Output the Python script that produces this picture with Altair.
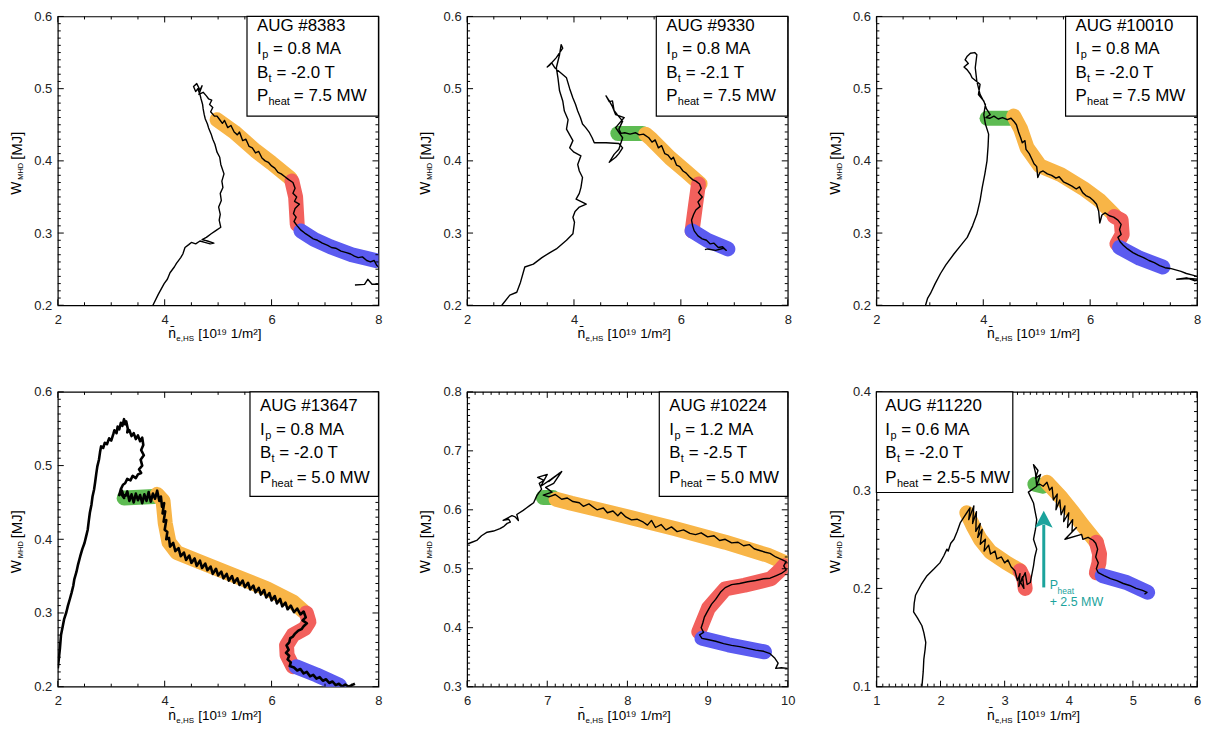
import altair as alt
import pandas as pd

FONT = "Liberation Sans"
BAND_COLORS = {"orange": "#F8B547", "red": "#F2605C", "blue": "#5B5BF0", "green": "#5DBB52"}
TEAL = "#1BA39C"

# ---------------- Panel 1 : AUG #8383 ----------------
P1_INFO = ["AUG #8383", "0.8 MA", "-2.0 T", "7.5 MW"]
P1_LINE = [(3.78,0.200),(3.88,0.215),(3.99,0.230),(4.05,0.236),(4.10,0.245),(4.18,0.253),(4.22,0.258),
           (4.30,0.266),(4.34,0.271),(4.38,0.280),(4.45,0.284),(4.50,0.287),(4.58,0.285),(4.66,0.289),
           (4.75,0.287),(4.85,0.285),(4.92,0.286),(4.80,0.289),(4.70,0.291),(4.78,0.294),(4.87,0.299),
           (4.95,0.303),(5.05,0.308),(5.02,0.318),(5.04,0.326),(5.01,0.336),(5.06,0.345),(5.04,0.355),
           (5.09,0.363),(5.07,0.372),(5.11,0.382),(5.05,0.395),(5.03,0.405),(4.98,0.412),(4.94,0.423),
           (4.90,0.430),(4.87,0.437),(4.82,0.446),(4.80,0.451),(4.76,0.458),(4.74,0.464),(4.72,0.472),
           (4.71,0.478),(4.68,0.486),(4.66,0.492),(4.62,0.500),(4.58,0.496),(4.54,0.503),(4.60,0.507),
           (4.66,0.498),(4.70,0.504),(4.64,0.492),(4.72,0.495),(4.78,0.490),(4.82,0.486),(4.88,0.484),
           (4.84,0.478),(4.90,0.474),(4.86,0.468),(4.93,0.462),(4.98,0.462),(5.02,0.458),
           (5.08,0.452),(5.12,0.456),(5.18,0.446),(5.24,0.449),(5.30,0.440),(5.36,0.436),(5.40,0.440),
           (5.46,0.428),(5.52,0.430),(5.58,0.420),(5.64,0.418),(5.70,0.411),(5.76,0.413),(5.82,0.404),
           (5.88,0.400),(5.94,0.398),(6.00,0.393),(6.06,0.390),(6.12,0.384),(6.18,0.382),(6.25,0.378),
           (6.32,0.374),(6.40,0.370),(6.44,0.362),(6.40,0.355),(6.47,0.350),(6.43,0.344),(6.52,0.340),
           (6.44,0.334),(6.41,0.327),(6.46,0.322),(6.42,0.316),(6.48,0.310),(6.55,0.304),(6.62,0.300),
           (6.70,0.296),(6.78,0.292),(6.86,0.290),(6.95,0.286),(7.05,0.283),(7.12,0.280),(7.20,0.279),
           (7.30,0.275),(7.40,0.273),(7.48,0.271),(7.55,0.268),(7.62,0.266),(7.70,0.267),(7.78,0.262),
           (7.85,0.260),(7.92,0.262),(7.97,0.255),(8.02,0.252),(8.15,0.240),(8.05,0.229),(7.88,0.229),
           (7.80,0.236),(7.74,0.229),(7.56,0.228)]
P1_ORANGE = [(4.98,0.457),(5.30,0.440),(5.70,0.414),(6.00,0.397),(6.35,0.376)]
P1_RED = [(6.38,0.372),(6.45,0.350),(6.48,0.312)]
P1_BLUE = [(6.55,0.303),(6.80,0.291),(7.10,0.281),(7.50,0.270),(7.95,0.262)]

# ---------------- Panel 2 : AUG #9330 ----------------
P2_INFO = ["AUG #9330", "0.8 MA", "-2.1 T", "7.5 MW"]
P2_LINE = [(2.65,0.200),(2.80,0.214),(2.93,0.218),(3.00,0.232),(3.08,0.253),(3.24,0.257),(3.40,0.266),
           (3.55,0.273),(3.67,0.278),(3.86,0.290),(3.98,0.299),(4.01,0.315),(3.98,0.322),(4.02,0.330),
           (4.10,0.336),(4.23,0.340),(4.04,0.347),(4.10,0.355),(4.13,0.363),(4.16,0.377),(4.10,0.386),
           (4.07,0.395),(4.13,0.407),(4.00,0.412),(3.92,0.418),(3.98,0.428),(3.92,0.436),(3.86,0.444),
           (3.89,0.457),(3.82,0.469),(3.79,0.483),(3.73,0.497),(3.70,0.515),(3.67,0.529),(3.73,0.547),
           (3.76,0.561),(3.79,0.556),(3.67,0.543),(3.55,0.533),(3.50,0.530),(3.58,0.536),(3.64,0.529),
           (3.75,0.522),(3.86,0.515),(3.92,0.500),(3.98,0.487),(4.03,0.478),(4.07,0.469),(4.12,0.460),
           (4.16,0.451),(4.22,0.446),(4.29,0.439),(4.34,0.432),(4.38,0.425),(4.60,0.425),(4.84,0.424),
           (4.91,0.418),(4.84,0.410),(4.78,0.405),(4.66,0.398),(4.75,0.409),(4.84,0.416),(4.91,0.432),
           (4.78,0.446),(4.94,0.460),(4.78,0.464),(4.72,0.475),(4.66,0.483),(4.60,0.490),(4.66,0.482),
           (4.72,0.483),(4.75,0.470),(4.81,0.464),(4.91,0.455),(4.84,0.444),(4.88,0.438),(4.95,0.439),
           (5.05,0.437),(5.15,0.439),(5.22,0.436),(5.30,0.437),(5.40,0.432),(5.46,0.426),(5.52,0.429),
           (5.58,0.418),(5.64,0.421),(5.70,0.410),(5.76,0.408),(5.82,0.402),(5.86,0.405),(5.92,0.394),
           (5.98,0.392),(6.04,0.386),(6.10,0.383),(6.16,0.378),(6.22,0.374),(6.28,0.372),(6.35,0.368),
           (6.38,0.362),(6.33,0.356),(6.40,0.350),(6.32,0.343),(6.36,0.337),(6.28,0.332),(6.24,0.326),
           (6.20,0.318),(6.22,0.310),(6.25,0.303),(6.32,0.296),(6.40,0.292),(6.48,0.290),(6.55,0.285),
           (6.62,0.286),(6.70,0.280),(6.78,0.281),(6.85,0.276),(6.80,0.279),(6.65,0.276),(6.50,0.278),
           (6.45,0.277)]
P2_GREEN = [(4.82,0.438),(5.28,0.438)]
P2_ORANGE = [(5.34,0.437),(5.45,0.430),(5.80,0.404),(6.10,0.385),(6.36,0.368)]
P2_RED = [(6.33,0.368),(6.27,0.336),(6.21,0.303)]
P2_BLUE = [(6.21,0.303),(6.50,0.290),(6.88,0.278)]

# ---------------- Panel 3 : AUG #10010 ----------------
P3_INFO = ["AUG #10010", "0.8 MA", "-2.0 T", "7.5 MW"]
P3_LINE = [(2.92,0.200),(2.96,0.210),(3.01,0.216),(3.10,0.230),(3.20,0.244),(3.30,0.256),(3.45,0.271),
           (3.58,0.283),(3.70,0.294),(3.80,0.310),(3.88,0.326),(3.94,0.345),(3.98,0.363),(4.03,0.382),
           (4.07,0.400),(4.09,0.420),(4.10,0.437),(4.04,0.451),(4.01,0.464),(4.04,0.478),(3.94,0.492),
           (3.88,0.510),(3.85,0.529),(3.88,0.547),(3.84,0.550),(3.76,0.549),(3.70,0.545),(3.66,0.540),
           (3.72,0.535),(3.64,0.530),(3.70,0.526),(3.76,0.520),(3.79,0.515),(3.94,0.506),(3.91,0.492),
           (4.01,0.483),(4.06,0.472),(4.13,0.464),(4.05,0.460),(4.12,0.459),(4.20,0.462),(4.28,0.458),
           (4.36,0.460),(4.45,0.457),(4.52,0.459),(4.57,0.455),(4.62,0.450),(4.66,0.440),(4.70,0.432),
           (4.73,0.425),(4.78,0.428),(4.80,0.416),(4.86,0.410),(4.90,0.404),(4.95,0.396),(5.00,0.392),
           (5.02,0.377),(5.06,0.384),(5.12,0.386),(5.20,0.382),(5.28,0.380),(5.36,0.376),(5.42,0.378),
           (5.50,0.371),(5.58,0.368),(5.66,0.365),(5.74,0.361),(5.80,0.364),(5.86,0.356),(5.92,0.352),
           (6.00,0.349),(6.06,0.345),(6.12,0.340),(6.16,0.330),(6.18,0.314),(6.22,0.325),(6.28,0.328),
           (6.36,0.324),(6.44,0.322),(6.52,0.318),(6.58,0.312),(6.55,0.305),(6.58,0.298),(6.52,0.294),
           (6.56,0.288),(6.62,0.283),(6.70,0.278),(6.80,0.273),(6.90,0.269),(7.00,0.266),(7.10,0.262),
           (7.20,0.259),(7.30,0.255),(7.40,0.252),(7.50,0.251),(7.60,0.249),(7.70,0.247),(7.80,0.244),
           (7.90,0.242),(8.00,0.240),(8.10,0.238),(8.02,0.236),(7.85,0.237),(7.62,0.236),(7.80,0.238),
           (7.95,0.234),(8.10,0.236)]
P3_GREEN = [(4.07,0.459),(4.53,0.459)]
P3_ORANGE = [(4.57,0.462),(4.70,0.444),(4.82,0.418),(5.06,0.393),(5.45,0.381),(5.87,0.362),
             (6.18,0.345),(6.45,0.325)]
P3_RED = [(6.45,0.323),(6.58,0.318),(6.60,0.298),(6.50,0.285)]
P3_BLUE = [(6.55,0.280),(6.93,0.265),(7.36,0.253)]

# ---------------- Panel 4 : AUG #13647 ----------------
P4_INFO = ["AUG #13647", "0.8 MA", "-2.0 T", "5.0 MW"]
P4_LINE = [(2.00,0.225),(2.02,0.238),(2.04,0.252),(2.06,0.270),(2.09,0.281),(2.12,0.292),(2.16,0.301),
           (2.19,0.310),(2.23,0.320),(2.26,0.328),(2.29,0.337),(2.31,0.346),(2.35,0.356),(2.38,0.366),
           (2.42,0.377),(2.46,0.387),(2.50,0.395),(2.53,0.404),(2.56,0.413),(2.58,0.425),(2.60,0.436),
           (2.63,0.447),(2.65,0.458),(2.68,0.468),(2.70,0.478),(2.72,0.489),(2.74,0.499),(2.77,0.508),
           (2.79,0.518),(2.81,0.526),(2.85,0.524),(2.88,0.531),(2.92,0.529),(2.96,0.537),(3.00,0.534),
           (3.04,0.543),(3.06,0.548),(3.10,0.544),(3.12,0.553),(3.15,0.549),(3.18,0.558),(3.21,0.554),
           (3.24,0.563),(3.26,0.556),(3.28,0.560),(3.31,0.550),(3.30,0.545),(3.34,0.548),(3.38,0.540),
           (3.42,0.544),(3.46,0.536),(3.50,0.541),(3.54,0.533),(3.58,0.538),(3.60,0.528),(3.56,0.521),
           (3.61,0.514),(3.55,0.508),(3.58,0.500),(3.52,0.495),(3.56,0.490),(3.50,0.488),(3.46,0.483),
           (3.40,0.486),(3.36,0.480),(3.30,0.482),(3.26,0.476),(3.22,0.474),(3.18,0.468),(3.15,0.460),
           (3.20,0.466),(3.24,0.456),(3.18,0.462),(3.27,0.459),(3.30,0.465),(3.34,0.452),(3.38,0.461),
           (3.42,0.450),(3.46,0.462),(3.50,0.453),(3.54,0.460),(3.58,0.449),(3.62,0.461),(3.66,0.452),
           (3.70,0.464),(3.74,0.451),(3.78,0.462),(3.82,0.455),(3.86,0.466),(3.90,0.452),(3.93,0.458),
           (3.95,0.444),(3.99,0.449),(3.96,0.435),(4.01,0.438),(3.98,0.424),(4.03,0.426),(4.00,0.413),
           (4.05,0.410),(4.03,0.400),(4.08,0.402),(4.10,0.390),(4.16,0.395),(4.20,0.384),(4.26,0.388),
           (4.30,0.377),(4.36,0.382),(4.40,0.372),(4.46,0.378),(4.50,0.368),(4.56,0.374),(4.60,0.364),
           (4.66,0.371),(4.70,0.361),(4.76,0.367),(4.80,0.358),(4.86,0.363),(4.90,0.353),(4.96,0.360),
           (5.00,0.351),(5.06,0.356),(5.10,0.347),(5.16,0.353),(5.20,0.344),(5.26,0.350),(5.30,0.341),
           (5.36,0.347),(5.40,0.338),(5.46,0.344),(5.50,0.335),(5.56,0.341),(5.60,0.332),(5.66,0.337),
           (5.70,0.328),(5.76,0.334),(5.80,0.325),(5.86,0.331),(5.90,0.321),(5.96,0.327),(6.00,0.317),
           (6.06,0.323),(6.10,0.313),(6.16,0.319),(6.20,0.309),(6.26,0.314),(6.30,0.305),(6.36,0.310),
           (6.42,0.301),(6.48,0.306),(6.54,0.298),(6.60,0.302),(6.64,0.294),(6.58,0.290),(6.66,0.286),
           (6.60,0.282),(6.56,0.278),(6.50,0.276),(6.44,0.272),(6.40,0.268),(6.35,0.266),(6.33,0.260),
           (6.28,0.256),(6.32,0.250),(6.27,0.246),(6.33,0.242),(6.30,0.237),(6.36,0.233),(6.34,0.228),
           (6.42,0.226),(6.48,0.222),(6.54,0.224),(6.60,0.218),(6.66,0.220),(6.72,0.214),(6.78,0.216),
           (6.84,0.211),(6.90,0.213),(6.96,0.208),(7.02,0.210),(7.08,0.205),(7.14,0.207),(7.20,0.202),
           (7.26,0.204),(7.32,0.200),(7.38,0.203),(7.44,0.200),(7.50,0.202),(7.56,0.204)]
P4_GREEN = [(3.24,0.456),(3.80,0.458)]
P4_ORANGE = [(3.86,0.461),(3.97,0.452),(4.01,0.422),(4.08,0.396),(4.23,0.382),(4.67,0.369),
             (5.29,0.351),(5.91,0.333),(6.40,0.315),(6.59,0.303)]
P4_RED = [(6.65,0.300),(6.70,0.288),(6.62,0.279),(6.40,0.270),(6.28,0.256),(6.29,0.243),(6.40,0.227)]
P4_BLUE = [(6.46,0.227),(6.84,0.216),(7.27,0.202)]

# ---------------- Panel 5 : AUG #10224 ----------------
P5_INFO = ["AUG #10224", "1.2 MA", "-2.5 T", "5.0 MW"]
P5_LINE = [(6.00,0.542),(6.06,0.545),(6.12,0.548),(6.18,0.556),(6.25,0.562),(6.33,0.564),(6.41,0.568),
           (6.46,0.572),(6.50,0.577),(6.54,0.579),(6.52,0.584),(6.45,0.582),(6.56,0.590),(6.60,0.588),
           (6.64,0.582),(6.62,0.592),(6.70,0.599),(6.74,0.603),(6.78,0.607),(6.83,0.612),(6.87,0.624),
           (6.90,0.630),(6.93,0.635),(6.90,0.645),(6.96,0.650),(6.88,0.655),(7.00,0.660),(6.92,0.640),
           (7.05,0.652),(7.15,0.662),(7.02,0.648),(7.18,0.665),(7.08,0.645),(6.98,0.638),(7.06,0.630),
           (6.95,0.625),(7.02,0.622),(7.10,0.626),(7.18,0.618),(7.25,0.620),(7.32,0.614),(7.40,0.612),
           (7.45,0.606),(7.52,0.610),(7.58,0.604),(7.62,0.600),(7.70,0.603),(7.75,0.595),(7.82,0.598),
           (7.88,0.590),(7.92,0.596),(7.98,0.588),(8.05,0.583),(8.12,0.584),(8.20,0.579),(8.25,0.574),
           (8.30,0.582),(8.35,0.570),(8.42,0.575),(8.48,0.566),(8.55,0.571),(8.62,0.563),(8.70,0.566),
           (8.78,0.560),(8.85,0.558),(8.92,0.561),(9.00,0.554),(9.08,0.556),(9.15,0.548),(9.22,0.550),
           (9.30,0.544),(9.38,0.545),(9.45,0.539),(9.52,0.541),(9.58,0.534),(9.65,0.531),(9.72,0.528),
           (9.78,0.526),(9.85,0.520),(9.92,0.516),(9.98,0.512),(9.95,0.505),(9.98,0.498),(9.92,0.492),
           (9.85,0.488),(9.78,0.484),(9.70,0.483),(9.60,0.480),(9.50,0.478),(9.40,0.475),(9.30,0.473),
           (9.22,0.468),(9.16,0.460),(9.10,0.448),(9.05,0.440),(9.00,0.428),(8.96,0.418),(8.94,0.408),
           (8.92,0.400),(8.95,0.392),(8.90,0.388),(8.93,0.382),(9.00,0.380),(9.10,0.377),(9.20,0.373),
           (9.30,0.370),(9.40,0.368),(9.50,0.365),(9.60,0.362),(9.70,0.360),(9.78,0.356),(9.84,0.348),
           (9.88,0.340),(9.85,0.331),(9.92,0.332),(10.0,0.331)]
P5_GREEN = [(6.95,0.621),(7.07,0.621)]
P5_ORANGE = [(7.11,0.618),(7.30,0.611),(7.77,0.596),(8.60,0.568),(9.22,0.545),(9.75,0.523),(9.96,0.511)]
P5_RED = [(9.95,0.505),(9.90,0.497),(9.79,0.483),(9.46,0.472),(9.22,0.466),(9.01,0.433),(8.89,0.393)]
P5_BLUE = [(8.93,0.382),(9.26,0.371),(9.71,0.359)]

# ---------------- Panel 6 : AUG #11220 ----------------
P6_INFO = ["AUG #11220", "0.6 MA", "-2.0 T", "2.5-5 MW"]
P6_LINE = [(1.71,0.100),(1.73,0.115),(1.74,0.128),(1.76,0.138),(1.77,0.145),(1.74,0.155),(1.71,0.162),
           (1.64,0.170),(1.58,0.176),(1.59,0.185),(1.61,0.193),(1.70,0.204),(1.79,0.213),(1.90,0.220),
           (1.99,0.226),(2.05,0.233),(2.10,0.240),(2.12,0.238),(2.16,0.246),(2.21,0.250),(2.26,0.258),
           (2.31,0.267),(2.36,0.272),(2.41,0.277),(2.46,0.282),(2.44,0.270),(2.52,0.284),(2.50,0.266),
           (2.56,0.278),(2.55,0.258),(2.62,0.266),(2.58,0.252),(2.65,0.260),(2.62,0.245),(2.70,0.250),
           (2.68,0.238),(2.75,0.244),(2.78,0.235),(2.85,0.238),(2.88,0.230),(2.95,0.232),(3.00,0.226),
           (3.05,0.229),(3.10,0.222),(3.16,0.218),(3.20,0.208),(3.24,0.215),(3.22,0.202),(3.28,0.212),
           (3.30,0.200),(3.25,0.206),(3.32,0.216),(3.35,0.204),(3.40,0.206),(3.45,0.223),(3.47,0.232),
           (3.50,0.240),(3.45,0.250),(3.48,0.260),(3.50,0.270),(3.47,0.280),(3.45,0.287),(3.37,0.298),
           (3.50,0.304),(3.48,0.318),(3.45,0.326),(3.52,0.320),(3.48,0.312),(3.56,0.316),(3.50,0.305),
           (3.55,0.306),(3.60,0.304),(3.66,0.308),(3.70,0.300),(3.74,0.303),(3.76,0.290),(3.82,0.296),
           (3.80,0.280),(3.86,0.290),(3.88,0.275),(3.94,0.284),(3.92,0.268),(4.00,0.277),(3.98,0.262),
           (4.06,0.270),(4.05,0.258),(4.12,0.262),(3.94,0.250),(4.20,0.255),(4.22,0.250),(4.30,0.252),
           (4.38,0.249),(4.42,0.246),(4.45,0.240),(4.42,0.232),(4.46,0.226),(4.43,0.220),(4.46,0.216),
           (4.55,0.213),(4.65,0.210),(4.75,0.208),(4.85,0.205),(4.95,0.203),(5.05,0.200),(5.15,0.198),
           (5.22,0.196),(5.18,0.194)]
P6_ORANGE_A = [(2.41,0.277),(2.52,0.262),(2.62,0.250),(2.78,0.237),(3.03,0.226),(3.24,0.218)]
P6_RED_A = [(3.24,0.218),(3.30,0.210),(3.32,0.200)]
P6_GREEN = [(3.47,0.306),(3.60,0.304)]
P6_ORANGE_B = [(3.66,0.308),(3.86,0.294),(4.07,0.277),(4.22,0.264),(4.43,0.247)]
P6_RED_B = [(4.43,0.247),(4.48,0.235),(4.47,0.226),(4.43,0.216)]
P6_BLUE = [(4.52,0.213),(4.90,0.206),(5.23,0.196)]
P6_ARROW = (3.61, 0.201, 0.265, 0.270)   # x, shaft start, shaft end, head centre

# axis ticks
TOP_X_MAJOR = [2, 4, 6, 8]
TOP_Y_MAJOR = [0.2, 0.3, 0.4, 0.5, 0.6]
P5_X_MAJOR = [6, 7, 8, 9, 10]
P5_Y_MAJOR = [0.3, 0.4, 0.5, 0.6, 0.7, 0.8]
P6_X_MAJOR = [1, 2, 3, 4, 5, 6]
P6_Y_MAJOR = [0.1, 0.2, 0.3, 0.4]

ONE = pd.DataFrame({"k": [0]})
W = 322


def minor_ticks(lo, hi, step, majors):
    n = int(round((hi - lo) / step))
    vals = [round(lo + i * step, 4) for i in range(n + 1)]
    return [v for v in vals if all(abs(v - m) > 1e-6 for m in majors)]


def txt(s, x, y, size, color="black", angle=0, align="left", baseline="middle"):
    return alt.Chart(ONE).mark_text(text=s, font=FONT, fontSize=size, color=color, angle=angle,
                                    align=align, baseline=baseline).encode(x=alt.value(x), y=alt.value(y))


def make_panel(line, bands, xdom, ydom, xmaj, xstep, ymaj, ystep, info, H, box, rows, lw, extra=None):
    xs = alt.Scale(domain=xdom, nice=False, zero=False)
    ys = alt.Scale(domain=ydom, nice=False, zero=False)
    xax = alt.Axis(values=xmaj, format="d", title=None, ticks=False, domain=False, grid=False,
                   labelFont=FONT, labelFontSize=13, labelColor="#222", labelPadding=8, labelFlush=False)
    yax = alt.Axis(values=ymaj, format=".1f", title=None, ticks=False, domain=False, grid=False,
                   labelFont=FONT, labelFontSize=13, labelColor="#222", labelPadding=6, labelFlush=False)
    X = lambda: alt.X("x:Q", scale=xs, axis=xax)
    Y = lambda: alt.Y("y:Q", scale=ys, axis=yax)

    rows_b = []
    for name, ckey, pts in bands:
        for i, (x, y) in enumerate(pts):
            rows_b.append({"x": x, "y": y, "seg": name, "col": BAND_COLORS[ckey], "i": i})
    band_layer = alt.Chart(pd.DataFrame(rows_b)).mark_line(
        strokeWidth=15, strokeCap="round", strokeJoin="round", clip=True
    ).encode(x=X(), y=Y(), detail="seg:N", color=alt.Color("col:N", scale=None), order="i:Q")

    ldf = pd.DataFrame({"x": [p[0] for p in line], "y": [p[1] for p in line], "i": list(range(len(line)))})
    line_layer = alt.Chart(ldf).mark_line(color="black", strokeWidth=lw, strokeJoin="round", clip=True
                                          ).encode(x=X(), y=Y(), order="i:Q")

    layers = [band_layer, line_layer]
    xmin = minor_ticks(xdom[0], xdom[1], xstep, xmaj)
    ymin = minor_ticks(ydom[0], ydom[1], ystep, ymaj)
    for vals, L in ((xmaj, 6), (xmin, 3)):
        base = alt.Chart(pd.DataFrame({"x": vals})).mark_rule(color="black", strokeWidth=1)
        layers.append(base.encode(x=X(), y=alt.value(H), y2=alt.value(H - L)))
        layers.append(base.encode(x=X(), y=alt.value(0), y2=alt.value(L)))
    for vals, L in ((ymaj, 6), (ymin, 3)):
        base = alt.Chart(pd.DataFrame({"y": vals})).mark_rule(color="black", strokeWidth=1)
        layers.append(base.encode(y=Y(), x=alt.value(0), x2=alt.value(L)))
        layers.append(base.encode(y=Y(), x=alt.value(W), x2=alt.value(W - L)))

    bx0, bx1, bh, tx = box
    layers.append(alt.Chart(ONE).mark_rect(fill="white", stroke="black", strokeWidth=1.2).encode(
        x=alt.value(bx0), x2=alt.value(bx1), y=alt.value(0), y2=alt.value(bh)))
    r0, r1, r2, r3 = rows
    layers += [
        txt(info[0], tx, r0, 17),
        txt("I", tx, r1, 17), txt("p", tx + 5.2, r1 + 6, 11), txt("= " + info[1], tx + 16, r1, 17),
        txt("B", tx, r2, 17), txt("t", tx + 11.6, r2 + 6, 11), txt("= " + info[2], tx + 19.5, r2, 17),
        txt("P", tx, r3, 17), txt("heat", tx + 11.6, r3 + 6, 11), txt("= " + info[3], tx + 37, r3, 17),
    ]
    # y-axis title  W_MHD [MJ]
    layers += [
        txt("W", -41, H / 2 + 34, 14, angle=270),
        txt("MHD", -37, H / 2 + 19, 7.5, angle=270),
        txt("[MJ]", -41, H / 2 - 1, 15, angle=270),
    ]
    # x-axis title  n_e,HS [10^19 1/m^2]
    layers += [
        txt("n\u0304", W / 2 - 50, H + 33, 14, baseline="alphabetic"),
        txt("e,HS", W / 2 - 42, H + 36, 8, baseline="alphabetic"),
        txt("[10\u00b9\u2079 1/m\u00b2]", W / 2 - 20, H + 33, 13.5, baseline="alphabetic"),
    ]
    if extra is not None:
        layers += extra(X, Y)
    return alt.layer(*layers).properties(width=W, height=H)


def arrow_layers(X, Y):
    ax, y0, y1, yh = P6_ARROW
    shaft = alt.Chart(pd.DataFrame({"x": [ax], "y": [y0], "y2": [y1]})).mark_rule(
        color=TEAL, strokeWidth=3).encode(x=X(), y=Y(), y2="y2:Q")
    head = alt.Chart(pd.DataFrame({"x": [ax], "y": [yh]})).mark_point(
        shape="M0,-1L1,0.9L0,0.5L-1,0.9Z", filled=True, color=TEAL, opacity=1, size=320
    ).encode(x=X(), y=Y())
    return [shaft, head,
            txt("P", 174, 194, 12.5, color=TEAL),
            txt("heat", 182, 200, 8.5, color=TEAL),
            txt("+ 2.5 MW", 174, 211, 12.5, color=TEAL)]


HT, HB = 290, 296
TOP_BOX = (190, W, 100, 200)
TOP_ROWS = (10, 33, 57, 80)
BOT_BOX = (193, W, 105, 203)
BOT_ROWS = (14, 38, 61, 86)

p1 = make_panel(P1_LINE, [("o", "orange", P1_ORANGE), ("r", "red", P1_RED), ("b", "blue", P1_BLUE)],
                [2, 8], [0.2, 0.6], TOP_X_MAJOR, 0.5, TOP_Y_MAJOR, 0.01, P1_INFO, HT, TOP_BOX, TOP_ROWS, 1.4)
p2 = make_panel(P2_LINE, [("g", "green", P2_GREEN), ("o", "orange", P2_ORANGE), ("r", "red", P2_RED),
                          ("b", "blue", P2_BLUE)],
                [2, 8], [0.2, 0.6], TOP_X_MAJOR, 0.5, TOP_Y_MAJOR, 0.01, P2_INFO, HT, TOP_BOX, TOP_ROWS, 1.4)
p3 = make_panel(P3_LINE, [("g", "green", P3_GREEN), ("o", "orange", P3_ORANGE), ("r", "red", P3_RED),
                          ("b", "blue", P3_BLUE)],
                [2, 8], [0.2, 0.6], TOP_X_MAJOR, 0.5, TOP_Y_MAJOR, 0.01, P3_INFO, HT, TOP_BOX, TOP_ROWS, 1.4)
p4 = make_panel(P4_LINE, [("g", "green", P4_GREEN), ("o", "orange", P4_ORANGE), ("r", "red", P4_RED),
                          ("b", "blue", P4_BLUE)],
                [2, 8], [0.2, 0.6], TOP_X_MAJOR, 0.5, TOP_Y_MAJOR, 0.01, P4_INFO, HB, BOT_BOX, BOT_ROWS, 2.6)
p5 = make_panel(P5_LINE, [("g", "green", P5_GREEN), ("o", "orange", P5_ORANGE), ("r", "red", P5_RED),
                          ("b", "blue", P5_BLUE)],
                [6, 10], [0.3, 0.8], P5_X_MAJOR, 0.1, P5_Y_MAJOR, 0.01, P5_INFO, HB, BOT_BOX, BOT_ROWS, 1.4)
p6 = make_panel(P6_LINE, [("oa", "orange", P6_ORANGE_A), ("ra", "red", P6_RED_A), ("g", "green", P6_GREEN),
                          ("ob", "orange", P6_ORANGE_B), ("rb", "red", P6_RED_B), ("b", "blue", P6_BLUE)],
                [1, 6], [0.1, 0.4], P6_X_MAJOR, 0.1, P6_Y_MAJOR, 0.01, P6_INFO, HB, (0, 137, 101, 9),
                BOT_ROWS, 1.4, extra=arrow_layers)

row1 = alt.hconcat(p1, p2, p3, spacing=89, bounds="flush")
row2 = alt.hconcat(p4, p5, p6, spacing=89, bounds="flush")
chart = alt.vconcat(row1, row2, spacing=41).properties(
    padding={"left": 1, "top": 0, "right": 5, "bottom": 0}, background="white"
).configure_view(stroke="black", strokeWidth=1.2)

chart.save("out.html", embed_options={"renderer": "svg", "actions": False})
